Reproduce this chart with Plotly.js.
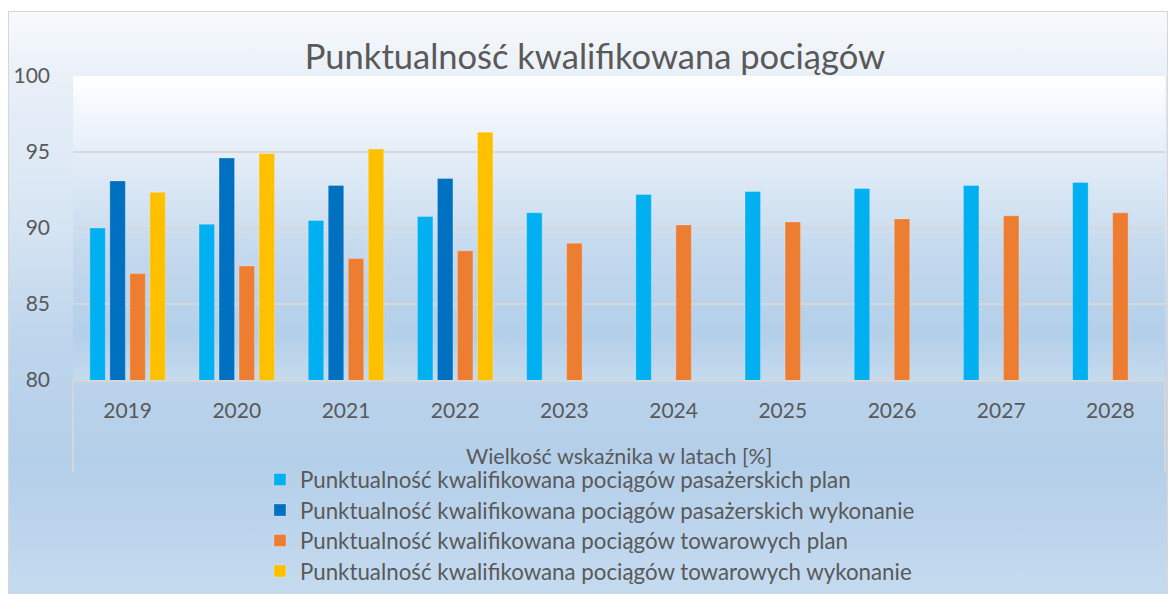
<!DOCTYPE html>
<html>
<head>
<meta charset="utf-8">
<script src="https://cdn.plot.ly/plotly-3.0.1.min.js"></script>
<style>
  html, body { margin: 0; padding: 0; background: #ffffff; }
  #wrap { position: relative; width: 1170px; height: 594px; overflow: hidden; }
  #frame {
    position: absolute; left: 8px; top: 11px; width: 1158px; height: 600px;
    border: 1px solid #d6d6d6;
    background: linear-gradient(to bottom, #f7fafd 0%, #e8eff8 12%, #d6e5f3 35%, #bed5ec 55%, #b4cfe9 75%, #c7dcf0 100%);
  }
  #chart { position: absolute; left: 0; top: 0; width: 1170px; height: 594px; }
</style>
</head>
<body>
<div id="wrap">
  <div id="frame"></div>
  <div id="chart"></div>
</div>
<script>
const years = ['2019', '2020', '2021', '2022', '2023', '2024', '2025', '2026', '2027', '2028'];
const pasPlan = [90.0, 90.25, 90.5, 90.75, 91.0, 92.2, 92.4, 92.6, 92.8, 93.0];
const pasWyk  = [93.1, 94.6, 92.8, 93.25, null, null, null, null, null, null];
const towPlan = [87.0, 87.5, 88.0, 88.5, 89.0, 90.2, 90.4, 90.6, 90.8, 91.0];
const towWyk  = [92.35, 94.9, 95.2, 96.3, null, null, null, null, null, null];

const seriesNames = [
  'Punktualność kwalifikowana pociągów pasażerskich plan',
  'Punktualność kwalifikowana pociągów pasażerskich wykonanie',
  'Punktualność kwalifikowana pociągów towarowych plan',
  'Punktualność kwalifikowana pociągów towarowych wykonanie'
];
const seriesValues = [pasPlan, pasWyk, towPlan, towWyk];
const seriesColors = ['#00B0F0', '#0070C0', '#ED7D31', '#FFC000'];
const xAxisTitle = 'Wielkość wskaźnika w latach [%]';

const FONT = 'Lato, "Open Sans", sans-serif';
const TXT = '#595959';
const legendIds = ['legend', 'legend2', 'legend3', 'legend4'];
const legendRowsY = [479.5, 510, 540.5, 571]; // pixel centres of legend rows

const traces = seriesNames.map((name, i) => ({
  type: 'bar',
  name: name,
  x: years,
  y: seriesValues[i],
  legend: legendIds[i],
  showlegend: true,
  marker: { color: seriesColors[i], line: { color: 'rgba(255,255,255,0.25)', width: 1 } },
  hoverinfo: 'x+y+name'
}));

const plotGrad = '<svg xmlns="http://www.w3.org/2000/svg" width="100" height="100" preserveAspectRatio="none">' +
  '<defs><linearGradient id="g" x1="0" y1="0" x2="0" y2="1">' +
  '<stop offset="0" stop-color="#ffffff"/>' +
  '<stop offset="0.25" stop-color="#e5eef8"/>' +
  '<stop offset="0.6" stop-color="#c3d8ed"/>' +
  '<stop offset="0.85" stop-color="#b3cfe9"/>' +
  '<stop offset="1" stop-color="#c5daee"/>' +
  '</linearGradient></defs><rect width="100" height="100" fill="url(#g)"/></svg>';

const H = 594;
const PLOT_TOP = 76, PLOT_BOTTOM = 380;
const layout = {
  width: 1170,
  height: H,
  showlegend: true,
  margin: { l: 73, r: 5, t: PLOT_TOP, b: H - PLOT_BOTTOM },
  paper_bgcolor: 'rgba(0,0,0,0)',
  plot_bgcolor: 'rgba(0,0,0,0)',
  font: { family: FONT, color: TXT },
  title: {
    text: 'Punktualność kwalifikowana pociągów',
    font: { family: FONT, size: 34.5, color: TXT },
    x: 0.5085, xanchor: 'center',
    y: 0.904, yanchor: 'middle'
  },
  barmode: 'group',
  bargap: 0.267,
  bargroupgap: 0.225,
  xaxis: {
    type: 'category',
    showgrid: false,
    showline: true,
    linecolor: '#d6d6d6',
    linewidth: 2,
    ticks: '',
    ticklabelstandoff: 11,
    tickfont: { family: FONT, size: 21, color: TXT },
    automargin: false
  },
  yaxis: {
    range: [80, 100],
    dtick: 5,
    tick0: 80,
    showgrid: true,
    gridcolor: '#d6d8db',
    gridwidth: 2,
    zeroline: false,
    showline: false,
    ticks: '',
    ticklabelstandoff: 22,
    tickfont: { family: FONT, size: 21, color: TXT },
    automargin: false
  },
  annotations: [{
    text: xAxisTitle,
    xref: 'paper', yref: 'paper',
    x: 0.5, xanchor: 'center',
    y: -(456 - PLOT_BOTTOM) / (PLOT_BOTTOM - PLOT_TOP), yanchor: 'middle',
    showarrow: false,
    borderpad: 0,
    font: { family: FONT, size: 21.5, color: TXT }
  }],
  images: [{
    source: 'data:image/svg+xml;charset=utf-8,' + encodeURIComponent(plotGrad),
    xref: 'paper', yref: 'paper',
    x: 0, y: 1, sizex: 1, sizey: 1,
    xanchor: 'left', yanchor: 'top',
    sizing: 'stretch', layer: 'below'
  }],
  shapes: [
    { type: 'line', xref: 'paper', yref: 'paper', x0: 0, x1: 0, y0: 0, y1: -0.306, line: { color: '#d6d6d6', width: 2 } },
    { type: 'line', xref: 'paper', yref: 'paper', x0: 1, x1: 1, y0: 0, y1: -0.306, line: { color: '#d6d6d6', width: 2 } }
  ]
};

legendIds.forEach((id, i) => {
  layout[id] = {
    visible: true,
    orientation: 'v',
    xref: 'paper', yref: 'container',
    x: 0.1712, xanchor: 'left',
    y: 1 - legendRowsY[i] / H, yanchor: 'middle',
    bgcolor: 'rgba(0,0,0,0)',
    borderwidth: 0,
    font: { family: FONT, size: 22.3, color: TXT }
  };
});

Plotly.newPlot('chart', traces, layout, { displayModeBar: false, staticPlot: false });
</script>
</body>
</html>
